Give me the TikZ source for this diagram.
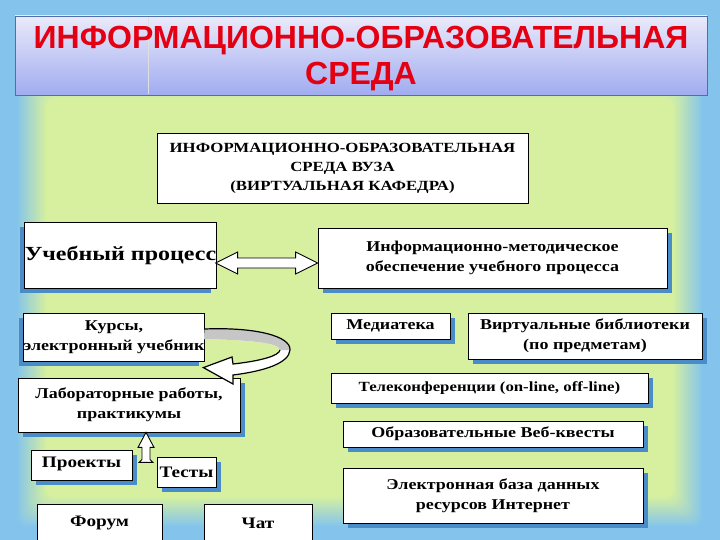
\documentclass[tikz,border=0pt]{standalone}
\usepackage{fontspec}
\setmainfont[FakeStretch=1.2]{Liberation Serif}
\newfontfamily\titlefont{Liberation Sans}
\usepackage{tikz}
\usetikzlibrary{calc, shadows}
\definecolor{frameblue}{RGB}{132,196,236}
\definecolor{fieldgreen}{RGB}{214,240,160}
\definecolor{shadeblue}{RGB}{74,140,200}
\definecolor{titletop}{RGB}{234,234,250}
\definecolor{titlebot}{RGB}{160,172,240}
\definecolor{titleedge}{RGB}{80,110,170}
\definecolor{titlered}{RGB}{228,0,18}

\begin{document}
\begin{tikzpicture}[x=1pt, y=-1pt,
    titlebox/.style={draw=titleedge, line width=0.6pt, top color=titletop, bottom color=titlebot,
                     minimum width=692pt, minimum height=79pt, inner sep=0pt},
    titletext/.style={inner sep=0pt, align=center, text=titlered,
                      font=\titlefont\bfseries\fontsize{32}{36}\selectfont},
    card/.style={draw=black, line width=0.8pt, fill=white, inner sep=1pt, align=center,
                 font=\bfseries\fontsize{15}{20}\selectfont},
    bigcard/.style={card, font=\bfseries\fontsize{16}{20}\selectfont},
    shadowbr/.style={drop shadow={shadow xshift=5pt, shadow yshift=-5pt, fill=shadeblue, opacity=1}},
    shadowbl/.style={drop shadow={shadow xshift=-5pt, shadow yshift=-5pt, fill=shadeblue, opacity=1}},
    blockarrow/.style={draw=black, line width=0.9pt, fill=white, line join=miter},
]
    \useasboundingbox (0,0) rectangle (720,540);
    \clip (0,0) rectangle (720,540);

    % background frame
    \fill[frameblue] (0,0) rectangle (720,540);
    \foreach \i [evaluate=\i as \mix using int(\i*100/15)] in {0,...,15}
        \fill[fieldgreen!\mix!frameblue, rounded corners=10pt]
            (16+2*\i,68+2*\i) rectangle (704-2*\i,528-2*\i);

    % heading
    \node[titlebox] (title) at (361,55.5) {};
    \draw[white!75!gray] ($(title.north west)+(133,1)$) -- ($(title.south west)+(133,-1)$);
    \node[titletext] (titlelabel) at ($(title.center)+(0,3)$) {ИНФОРМАЦИОННО-ОБРАЗОВАТЕЛЬНАЯ\\СРЕДА};

    \node[card, font=\bfseries\fontsize{14}{19}\selectfont, minimum width=371pt, minimum height=70pt]
        (vuz) at (342.5,168) {ИНФОРМАЦИОННО-ОБРАЗОВАТЕЛЬНАЯ\\СРЕДА ВУЗА\\(ВИРТУАЛЬНАЯ КАФЕДРА)};

    % left column
    \node[card, shadowbl, inner sep=0pt, font=\bfseries\fontsize{20}{24}\selectfont,
          minimum width=181pt, minimum height=66pt] (uch) at (120.5,255) {Учебный процесс};
    \node[card, shadowbl, inner sep=0pt, minimum width=180pt, minimum height=48pt]
        (kurs) at (114,337) {Курсы,\\электронный учебник};
    \node[card, shadowbr, minimum width=222pt, minimum height=54pt]
        (lab) at (129,405) {Лабораторные работы,\\практикумы};
    \node[bigcard, shadowbr, minimum width=101pt, minimum height=30pt, text depth=6pt]
        (proj) at (81.5,465) {Проекты};
    \node[bigcard, shadowbr, minimum width=59pt, minimum height=30pt] (test) at (186.5,472) {Тесты};
    \node[bigcard, minimum width=125pt, minimum height=38pt] (forum) at (99.5,523) {Форум};
    \node[bigcard, minimum width=108pt, minimum height=38pt] (chat) at (258,523) {Чат};

    % right column
    \node[card, shadowbr, minimum width=349pt, minimum height=60pt]
        (inf) at (492.5,258) {Информационно-методическое\\обеспечение учебного процесса};
    \node[card, shadowbr, minimum width=119pt, minimum height=26pt] (med) at (390.5,326) {Медиатека};
    \node[card, shadowbr, minimum width=234pt, minimum height=46pt]
        (virt) at (585,336) {Виртуальные библиотеки\\(по предметам)};
    \node[card, shadowbr, font=\bfseries\fontsize{14}{18}\selectfont, minimum width=317pt, minimum height=30pt]
        (tele) at (489.5,388) {Телеконференции (on-line, off-line)};
    \node[card, shadowbr, minimum width=300pt, minimum height=26pt]
        (kvest) at (493,434) {Образовательные Веб-квесты};
    \node[card, shadowbr, minimum width=300pt, minimum height=55pt]
        (baza) at (493,495.5) {Электронная база данных\\ресурсов Интернет};

    % double arrow
    \coordinate (dl) at ($(uch.east)+(-1,8)$);
    \coordinate (dr) at ($(inf.west)+(0,5)$);
    \draw[blockarrow] (dl) -- ++(22,-11) -- ++(0,6) -- ($(dr)+(-22,-5)$) -- ++(0,-6) -- (dr)
        -- ++(-22,11) -- ++(0,-6) -- ($(dl)+(22,5)$) -- ++(0,6) -- cycle;

    % curved arrow
    \coordinate (rs) at ($(kurs.east)+(0,-8)$);
    \coordinate (rt) at ($(lab.north east)+(-37,-10)$);
    \fill[white] (rs) .. controls (255,327) and (291,336) .. (290,350)
        .. controls (289,363) and (265,371) .. (233,375) -- (233,384) -- (rt) -- (232,357) -- (233,364)
        .. controls (260,361) and (279,356) .. (280,350)
        .. controls (280,343) and (250,340) .. (204,339) -- cycle;
    \fill[gray!45] (rs) .. controls (255,327) and (291,336) .. (290,350) -- (280,350)
        .. controls (280,343) and (250,340) .. (204,339) -- cycle;
    \draw[blockarrow, fill=none, line width=1.2pt] (rs) .. controls (255,327) and (291,336) .. (290,350)
        .. controls (289,363) and (265,371) .. (233,375) -- (233,384) -- (rt) -- (232,357) -- (233,364)
        .. controls (260,361) and (279,356) .. (280,350);

    % small arrow
    \coordinate (ut) at ($(lab.south)+(17,0)$);
    \draw[blockarrow] (ut) -- ++(-8,15) -- ++(4,0) -- ++(0,12) -- ++(-3,3) -- ++(14,0) -- ++(-3,-3)
        -- ++(0,-12) -- ++(4,0) -- cycle;
\end{tikzpicture}
\end{document}
